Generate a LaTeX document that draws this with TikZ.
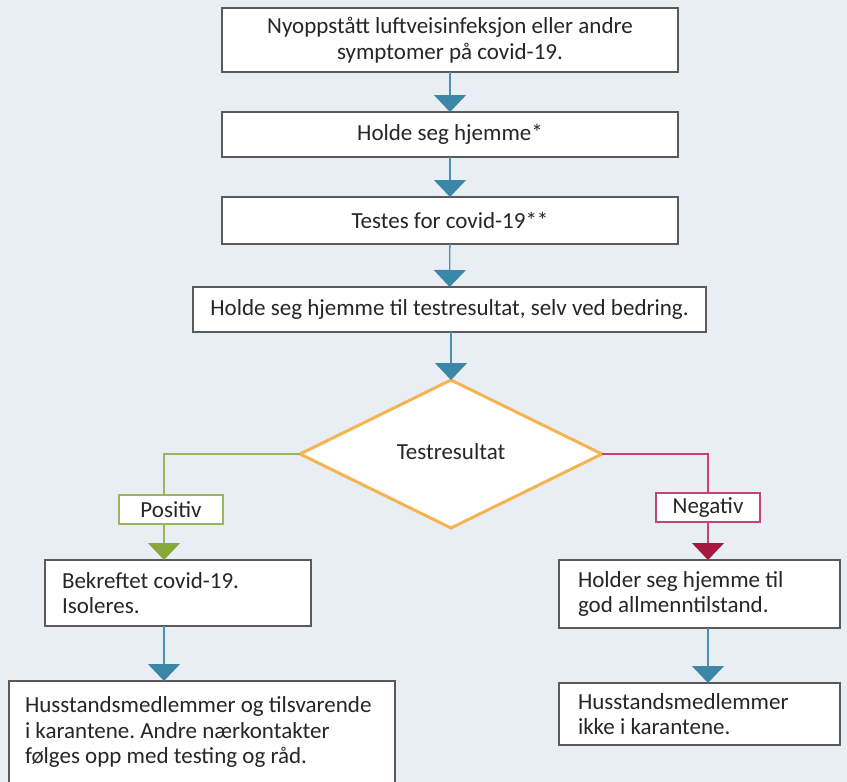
\documentclass[tikz,border=0pt]{standalone}
\usepackage{fontspec}
\setmainfont{Carlito}
\usetikzlibrary{arrows.meta,shapes.geometric,calc}
\definecolor{bgc}{HTML}{E9EEF5}
\definecolor{bordc}{HTML}{5A5A5A}
\definecolor{txt}{HTML}{262626}
\definecolor{bluel}{HTML}{4A90B2}
\definecolor{bluet}{HTML}{3B87A8}
\definecolor{orangec}{HTML}{F6B352}
\definecolor{greenl}{HTML}{96B85A}
\definecolor{greent}{HTML}{86AA3A}
\definecolor{redl}{HTML}{C4456C}
\definecolor{redt}{HTML}{A6193F}
\frenchspacing
\begin{document}
\begin{tikzpicture}[x=1pt,y=1pt,
  font=\fontsize{23}{25.5}\selectfont, text=txt,
  every node/.style={outer sep=0pt},
  box/.style={draw=bordc, line width=1.3pt, fill=white, inner sep=0pt, align=center},
  lbox/.style={draw=bordc, line width=1.3pt, fill=white, inner ysep=0pt, align=flush left},
  flow/.style={draw=bluel, line width=1.3pt, -{Triangle[width=32pt,length=17pt,color=bluet]}},
  gflow/.style={draw=greenl, line width=1.3pt},
  rflow/.style={draw=redl, line width=1.3pt},
  gtip/.style={-{Triangle[width=32pt,length=17pt,color=greent]}},
  rtip/.style={-{Triangle[width=32pt,length=17pt,color=redt]}},
  decide/.style={diamond, draw=orangec, line width=3pt, fill=white, inner sep=0pt, minimum width=302pt, minimum height=148pt},
  gbox/.style={draw=greenl, line width=1.3pt, fill=white, minimum width=104pt, minimum height=29pt, inner sep=0pt},
  rbox/.style={draw=redl, line width=1.3pt, fill=white, minimum width=104pt, minimum height=29pt, inner sep=0pt}
]
\fill[bgc] (0,0) rectangle (847,-782);
\useasboundingbox (0,0) rectangle (847,-782);
\clip (0,0) rectangle (847,-782);

\node[box, minimum width=456pt, minimum height=64pt] (b1) at (450,-40)
  {Nyoppstått luftveisinfeksjon eller andre\\symptomer på covid-19.};
\node[box, minimum width=456pt, minimum height=45pt] (b2) at (450,-134.5) {Holde seg hjemme*};
\node[box, minimum width=456pt, minimum height=47pt] (b3) at (450,-220.5) {Testes for covid-19**};
\node[box, minimum width=513pt, minimum height=45pt] (b4) at (449.5,-309.5)
  {Holde seg hjemme til testresultat, selv ved bedring.};
\node[decide] (d) at (451,-454) {};
\node (dt) at (451,-452) {Testresultat};

\node[gbox] (pos) at (171,-509.5) {Positiv};
\node[rbox] (neg) at (708,-507.5) {Negativ};

\node[lbox, minimum height=66pt, text width=232pt, inner xsep=17pt] (bek) at (178,-593)
  {Bekreftet covid-19.\\Isoleres.};
\node[lbox, minimum height=68pt, text width=243pt, inner xsep=19pt] (hold) at (699.5,-594)
  {Holder seg hjemme til\\god allmenntilstand.};
\node[lbox, anchor=north west, inner xsep=16pt, inner ysep=16pt] (hus1) at (9,-681)
  {\parbox[t][90pt][t]{354pt}{\raggedright Husstandsmedlemmer og tilsvarende\\i karantene. Andre nærkontakter\\følges opp med testing og råd.}};
\node[lbox, minimum height=62pt, text width=243pt, inner xsep=19pt] (hus2) at (699.5,-714)
  {Husstandsmedlemmer\\ikke i karantene.};

\coordinate (lc) at (164,0);
\coordinate (rc) at (708,0);

\draw[flow] (b1) -- (b2);
\draw[flow] (b2) -- (b3);
\draw[flow] (b3) -- (b4);
\draw[flow] (b4.south -| d.north) -- (d.north);

\draw[gflow] (d.west) -| (lc |- pos.north);
\draw[gflow, gtip] (lc |- pos.south) -- (lc |- bek.north);
\draw[rflow] (d.east) -| (rc |- neg.north);
\draw[rflow, rtip] (rc |- neg.south) -- (rc |- hold.north);

\draw[flow] (lc |- bek.south) -- (lc |- hus1.north);
\draw[flow] (rc |- hold.south) -- (rc |- hus2.north);
\end{tikzpicture}
\end{document}
